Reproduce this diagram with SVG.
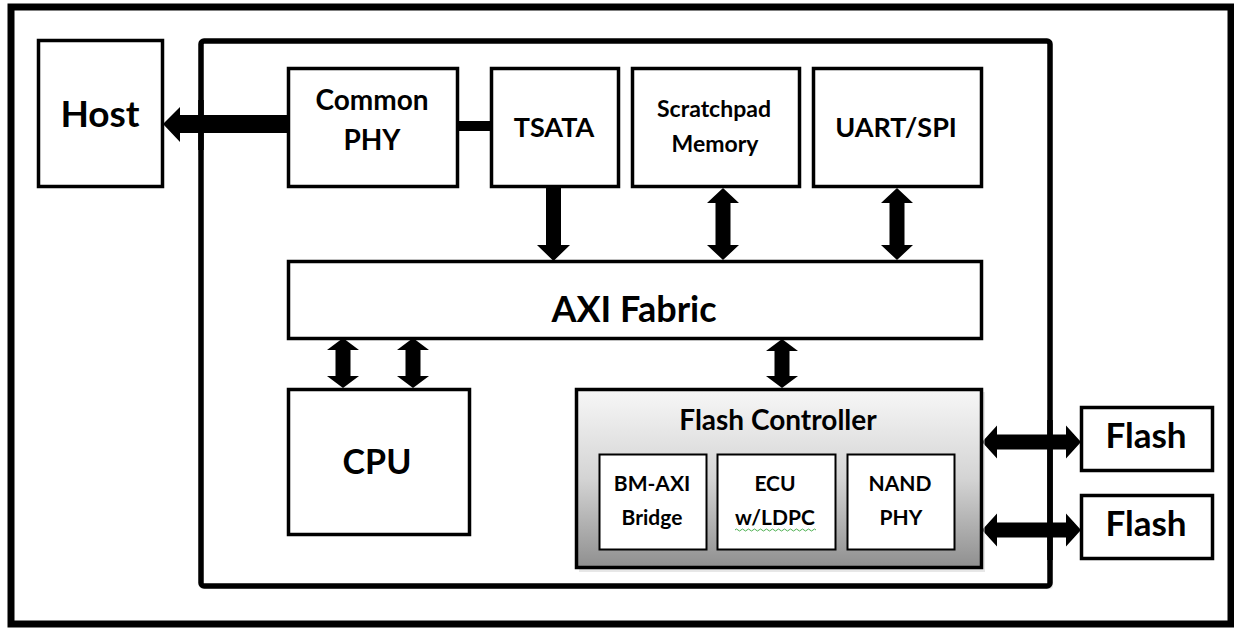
<svg xmlns="http://www.w3.org/2000/svg" width="1234" height="629" viewBox="0 0 1234 629">
<defs>
<linearGradient id="fcGrad" x1="0" y1="0" x2="0" y2="1">
<stop offset="0" stop-color="#f7f7f7"/>
<stop offset="0.5" stop-color="#d4d4d4"/>
<stop offset="1" stop-color="#8f8f8f"/>
</linearGradient>
<style>
.box{fill:#ffffff;stroke:#000000;stroke-width:3.5}
.sub{fill:#ffffff;stroke:#000000;stroke-width:2}
.t{font-family:Lato,"Liberation Sans","DejaVu Sans",sans-serif;font-weight:bold;fill:#000000;text-anchor:middle}
.arr{fill:#000000;stroke:none}
</style>
</defs>
<rect width="1234" height="629" fill="#ffffff"/>
<rect id="frame" x="11" y="7" width="1220" height="617" fill="none" stroke="#000000" stroke-width="7"/>

<g id="chip">
<rect x="204" y="44" width="849" height="545" rx="3" fill="#d9d9d9" opacity="0.5"/>
<rect x="201" y="41" width="849" height="545" rx="3" fill="#ffffff" stroke="#000000" stroke-width="5.5"/>
</g>

<g id="connectors">
<polygon class="arr" points="163,124 180,107 180,115 289,115 289,133 180,133 180,142"/>
<rect class="arr" x="457" y="121" width="35" height="10"/>
<polygon class="arr" points="546,187 561,187 561,245 570,245 553.5,261 537,245 546,245"/>
<polygon class="arr" points="723,188 739,203 730.5,203 730.5,245 739,245 723,260 707,245 715.5,245 715.5,203 707,203"/>
<polygon class="arr" points="897,188 913,203 904.5,203 904.5,245 913,245 897,260 881,245 889.5,245 889.5,203 881,203"/>
<polygon class="arr" points="343,338 359,350 350.5,350 350.5,376 359,376 343,388 327,376 335.5,376 335.5,350 327,350"/>
<polygon class="arr" points="413,338 429,350 420.5,350 420.5,376 429,376 413,388 397,376 405.5,376 405.5,350 397,350"/>
<polygon class="arr" points="782,339 798,351 789.5,351 789.5,376 798,376 782,388 766,376 774.5,376 774.5,351 766,351"/>
<polygon class="arr" points="982,442 997,425.5 997,434.5 1066,434.5 1066,425.5 1081,442 1066,458.5 1066,449.5 997,449.5 997,458.5"/>
<polygon class="arr" points="982,530 997,513.5 997,522.5 1066,522.5 1066,513.5 1081,530 1066,546.5 1066,537.5 997,537.5 997,546.5"/>
<line x1="1050" y1="420" x2="1050" y2="560" stroke="#000000" stroke-width="5.5"/>
<line x1="201" y1="100" x2="201" y2="150" stroke="#000000" stroke-width="5.5"/>
</g>

<g id="host">
<rect class="box" x="38.5" y="40.5" width="124" height="146"/>
<text class="t" x="100" y="127" font-size="37">Host</text>
</g>

<g id="common-phy">
<rect class="box" x="288.5" y="68.5" width="169" height="118"/>
<text class="t" x="372" y="110" font-size="28">Common</text>
<text class="t" x="372" y="150" font-size="28">PHY</text>
</g>

<g id="tsata">
<rect class="box" x="491.5" y="68.5" width="127" height="118"/>
<text class="t" x="554" y="137" font-size="27">TSATA</text>
</g>

<g id="scratchpad">
<rect class="box" x="632.5" y="68.5" width="167" height="118"/>
<text class="t" x="714" y="117" font-size="23">Scratchpad</text>
<text class="t" x="715" y="152" font-size="23">Memory</text>
</g>

<g id="uart-spi">
<rect class="box" x="813.5" y="68.5" width="168" height="118"/>
<text class="t" x="896" y="137" font-size="27">UART/SPI</text>
</g>

<g id="axi-fabric">
<rect class="box" x="288.5" y="261.5" width="693" height="77"/>
<text class="t" x="634" y="322" font-size="36">AXI Fabric</text>
</g>

<g id="cpu">
<rect class="box" x="288.5" y="389.5" width="181" height="145"/>
<text class="t" x="377" y="474" font-size="34">CPU</text>
</g>

<g id="flash-controller">
<rect x="579" y="392" width="406" height="180" fill="#cfcfcf" opacity="0.5"/>
<rect x="576.5" y="389.5" width="405" height="178" fill="url(#fcGrad)" stroke="#000000" stroke-width="3.5"/>
<text class="t" x="778" y="430" font-size="28">Flash Controller</text>
<g id="bm-axi">
<rect class="sub" x="599.5" y="454.5" width="107" height="95"/>
<text class="t" x="652" y="491" font-size="21">BM-AXI</text>
<text class="t" x="652" y="525" font-size="21">Bridge</text>
</g>
<g id="ecu">
<rect class="sub" x="717.5" y="454.5" width="118" height="95"/>
<text class="t" x="775" y="491" font-size="21">ECU</text>
<text class="t" x="775" y="525" font-size="21">w/LDPC</text>
<path d="M735,530 q1.5,-2 3,0 t3,0 t3,0 t3,0 t3,0 t3,0 t3,0 t3,0 t3,0 t3,0 t3,0 t3,0 t3,0 t3,0 t3,0 t3,0 t3,0 t3,0 t3,0 t3,0 t3,0 t3,0 t3,0 t3,0 t3,0 t3,0 t3,0" fill="none" stroke="#4caf50" stroke-width="1"/>
</g>
<g id="nand-phy">
<rect class="sub" x="847.5" y="454.5" width="107" height="95"/>
<text class="t" x="900" y="491" font-size="21">NAND</text>
<text class="t" x="901" y="525" font-size="21">PHY</text>
</g>
</g>

<g id="flash1">
<rect class="box" x="1081.5" y="407.5" width="131" height="63"/>
<text class="t" x="1146" y="448" font-size="35">Flash</text>
</g>

<g id="flash2">
<rect class="box" x="1081.5" y="495.5" width="131" height="63"/>
<text class="t" x="1146" y="536" font-size="35">Flash</text>
</g>
</svg>
